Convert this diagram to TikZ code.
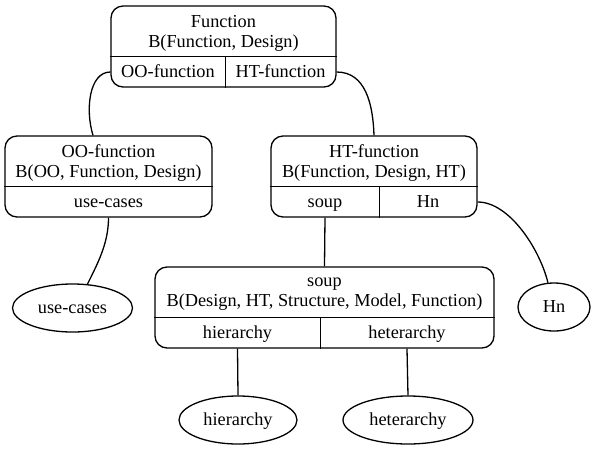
\documentclass[tikz,border=0pt]{standalone}
\usepackage{fontspec}
\setmainfont{Liberation Serif}
\newfontfamily\dotfont{Liberation Serif}
\usetikzlibrary{shapes.geometric}

\tikzset{
  rec/.style={draw,rounded corners=12pt,inner sep=0pt},
  cell/.style={inner sep=0pt,align=center},
  port/.style={cell,text height=13pt,text depth=3pt},
  leaf/.style={draw,ellipse,inner sep=0pt,minimum height=48pt,text height=13pt,text depth=3pt}
}

\begin{document}
\begin{tikzpicture}[x=1pt,y=-1pt,line width=1.3pt,font=\dotfont\fontsize{18.3}{20}\selectfont]
\useasboundingbox (0,0) rectangle (595,451);
\node[rec,minimum width=225pt,minimum height=81pt] (fn) at (223.5,46.5) {};
\node[cell] (fnT) at (223.5,33) {Function\\B(Function, Design)};
\node[port,minimum width=114pt,minimum height=30pt] (fnOO) at (168,72) {OO-function};
\node[port,minimum width=111pt,minimum height=30pt] (fnHT) at (280.5,72) {HT-function};
\draw (fnOO.north west) -- (fnHT.north east);
\draw (fnOO.north east) -- (fnOO.south east);

\node[rec,minimum width=207pt,minimum height=81pt] (oo) at (108.5,176.5) {};
\node[cell] (ooT) at (108.5,163) {OO-function\\B(OO, Function, Design)};
\node[port,minimum width=207pt,minimum height=30pt] (ooUC) at (108.5,202) {use-cases};
\draw (ooUC.north west) -- (ooUC.north east);

\node[rec,minimum width=206pt,minimum height=81pt] (ht) at (374,176.5) {};
\node[cell] (htT) at (374,163) {HT-function\\B(Function, Design, HT)};
\node[port,minimum width=108pt,minimum height=30pt] (htSoup) at (325,202) {soup};
\node[port,minimum width=98pt,minimum height=30pt] (htHn) at (428,202) {Hn};
\draw (htSoup.north west) -- (htHn.north east);
\draw (htSoup.north east) -- (htSoup.south east);

\node[rec,minimum width=339pt,minimum height=81pt] (soup) at (324.5,307.5) {};
\node[cell] (soupT) at (324.5,294) {soup\\B(Design, HT, Structure, Model, Function)};
\node[port,minimum width=165pt,minimum height=30pt] (soupHi) at (237.5,333) {hierarchy};
\node[port,minimum width=174pt,minimum height=30pt] (soupHe) at (407,333) {heterarchy};
\draw (soupHi.north west) -- (soupHe.north east);
\draw (soupHi.north east) -- (soupHi.south east);

\node[leaf,minimum width=120pt] (uc) at (72.5,308) {use-cases};
\node[leaf,minimum width=72pt] (hn) at (554,307) {Hn};
\node[leaf,minimum width=118pt] (hier) at (238,420) {hierarchy};
\node[leaf,minimum width=130pt] (het) at (408,420) {heterarchy};

\draw (fnOO.west) .. controls +(-21,0) and +(-8,-26) .. ([xshift=-15.5pt]oo.north);
\draw (fnHT.east) .. controls +(29,0) and +(-1,-31) .. (ht.north);
\draw (ooUC.south) .. controls +(0,25) and +(11,-22) .. (uc.58);
\draw (htSoup.south) -- (soup.north);
\draw (htHn.east) .. controls +(32,0) and +(-8,-33) .. (hn.104);
\draw (soupHi.south) -- (hier.north);
\draw (soupHe.south) -- (het.north);
\end{tikzpicture}
\end{document}
